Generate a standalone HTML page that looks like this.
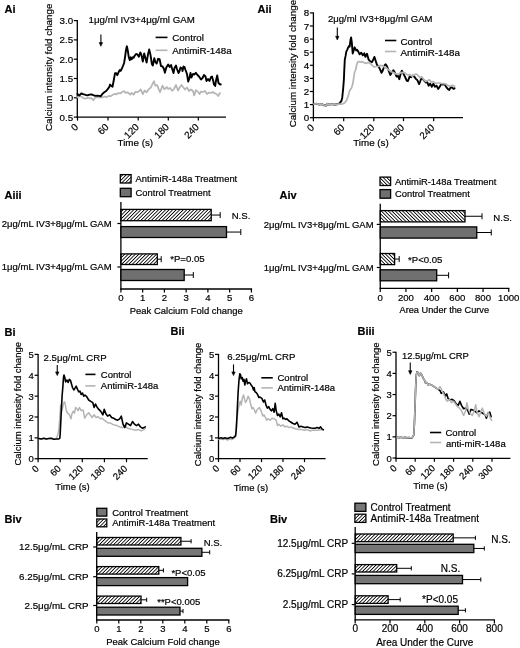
<!DOCTYPE html>
<html><head><meta charset="utf-8"><style>
html,body{margin:0;padding:0;background:#fff;width:520px;height:648px;overflow:hidden}
svg{display:block;will-change:transform}
text{font-family:"Liberation Sans",sans-serif;fill:#000;stroke:#000;stroke-width:0.2px}
</style></head><body>
<svg width="520" height="648" viewBox="0 0 520 648">
<defs>
<pattern id="hf" patternUnits="userSpaceOnUse" width="2.5" height="2.5" patternTransform="rotate(45)"><rect x="0" y="0" width="0.85" height="2.5" fill="#000"/></pattern>
<pattern id="hb" patternUnits="userSpaceOnUse" width="2.5" height="2.5" patternTransform="rotate(-45)"><rect x="0" y="0" width="0.85" height="2.5" fill="#000"/></pattern>
</defs>
<text x="4.60" y="12.60" font-size="11" font-weight="bold">Ai</text>
<line x1="77.30" y1="20.10" x2="77.30" y2="117.70" stroke="#000" stroke-width="1.3"/>
<line x1="76.70" y1="117.10" x2="226.00" y2="117.10" stroke="#000" stroke-width="1.3"/>
<line x1="73.80" y1="20.60" x2="77.30" y2="20.60" stroke="#000" stroke-width="1.2"/>
<text x="73.10" y="24.10" font-size="9.8" text-anchor="end">3.0</text>
<line x1="73.80" y1="39.90" x2="77.30" y2="39.90" stroke="#000" stroke-width="1.2"/>
<text x="73.10" y="43.40" font-size="9.8" text-anchor="end">2.5</text>
<line x1="73.80" y1="59.20" x2="77.30" y2="59.20" stroke="#000" stroke-width="1.2"/>
<text x="73.10" y="62.70" font-size="9.8" text-anchor="end">2.0</text>
<line x1="73.80" y1="78.50" x2="77.30" y2="78.50" stroke="#000" stroke-width="1.2"/>
<text x="73.10" y="82.00" font-size="9.8" text-anchor="end">1.5</text>
<line x1="73.80" y1="97.80" x2="77.30" y2="97.80" stroke="#000" stroke-width="1.2"/>
<text x="73.10" y="101.30" font-size="9.8" text-anchor="end">1.0</text>
<line x1="73.80" y1="117.10" x2="77.30" y2="117.10" stroke="#000" stroke-width="1.2"/>
<text x="73.10" y="120.60" font-size="9.8" text-anchor="end">0.5</text>
<line x1="77.50" y1="117.10" x2="77.50" y2="120.60" stroke="#000" stroke-width="1.2"/>
<text transform="translate(78.90 127.60) rotate(-45)" font-size="9.8" text-anchor="end">0</text>
<line x1="108.00" y1="117.10" x2="108.00" y2="120.60" stroke="#000" stroke-width="1.2"/>
<text transform="translate(109.40 127.60) rotate(-45)" font-size="9.8" text-anchor="end">60</text>
<line x1="138.20" y1="117.10" x2="138.20" y2="120.60" stroke="#000" stroke-width="1.2"/>
<text transform="translate(139.60 127.60) rotate(-45)" font-size="9.8" text-anchor="end">120</text>
<line x1="168.30" y1="117.10" x2="168.30" y2="120.60" stroke="#000" stroke-width="1.2"/>
<text transform="translate(169.70 127.60) rotate(-45)" font-size="9.8" text-anchor="end">180</text>
<line x1="198.30" y1="117.10" x2="198.30" y2="120.60" stroke="#000" stroke-width="1.2"/>
<text transform="translate(199.70 127.60) rotate(-45)" font-size="9.8" text-anchor="end">240</text>
<text transform="translate(52.20 67.30) rotate(-90)" font-size="9.8" text-anchor="middle">Calcium intensity fold change</text>
<text x="135.30" y="146.30" font-size="9.8" text-anchor="middle">Time (s)</text>
<text x="88.60" y="23.10" font-size="9.7">1μg/ml IV3+4μg/ml GAM</text>
<line x1="100.90" y1="34.40" x2="100.90" y2="43.80" stroke="#000" stroke-width="1.1"/>
<path d="M99.20 42.60 L102.60 42.60 L100.90 46.30 Z" fill="#000" stroke="#000" stroke-width="0.6" stroke-linejoin="round"/>
<line x1="155.60" y1="37.40" x2="167.50" y2="37.40" stroke="#000" stroke-width="1.6"/>
<text x="172.30" y="40.80" font-size="9.8">Control</text>
<line x1="155.60" y1="50.30" x2="167.50" y2="50.30" stroke="#b4b4b4" stroke-width="1.6"/>
<text x="172.30" y="53.80" font-size="9.8">AntimiR-148a</text>
<polyline points="77.4,97.3 79.8,96.3 81.8,96.8 83.7,98.3 85.6,98.8 87.5,97.8 89.5,98.3 91.4,98.1 93.3,100.2 95.2,97.8 97.2,97.3 100.0,97.3 102.9,97.3 104.8,96.5 106.8,97.1 108.7,95.9 110.6,96.3 112.5,94.9 114.5,93.9 116.4,94.4 118.3,93.0 120.2,93.5 122.2,92.0 124.1,91.1 125.4,92.8 127.8,92.3 130.2,94.7 131.7,92.8 133.6,94.7 135.5,91.8 137.5,92.3 139.4,90.9 140.8,89.4 142.8,94.2 144.7,90.4 146.6,92.3 149.0,88.9 150.9,87.5 152.4,84.1 154.0,81.2 155.2,85.6 157.2,85.1 158.6,88.9 160.0,92.3 162.5,85.6 164.4,89.4 166.8,87.0 168.2,88.9 170.2,88.0 172.1,90.9 174.0,89.0 176.0,85.0 178.0,90.5 180.0,87.0 181.5,85.0 183.0,87.0 185.0,89.5 187.0,87.5 189.0,91.0 191.0,89.5 193.0,91.0 194.2,95.5 196.0,90.0 198.0,92.0 199.5,94.0 201.0,91.5 203.0,92.0 205.0,91.0 207.0,94.0 209.0,92.5 211.0,93.0 213.0,92.0 215.0,93.5 216.5,94.0 218.2,96.0 220.0,93.0" fill="none" stroke="#b4b4b4" stroke-width="1.7" stroke-linejoin="round" stroke-linecap="round"/>
<polyline points="77.4,93.9 79.4,95.4 81.3,93.5 83.2,94.2 85.6,94.9 87.5,95.4 89.5,94.6 91.4,94.4 93.3,95.2 95.2,95.9 97.2,95.6 99.1,95.9 100.8,96.2 102.0,94.4 103.9,92.5 105.8,91.3 107.7,89.1 109.2,87.2 110.1,84.6 111.1,85.8 112.5,86.7 114.0,79.0 115.0,73.3 116.4,73.3 117.3,75.2 118.3,72.8 119.8,69.9 120.7,70.9 121.7,69.0 123.1,65.6 124.1,63.0 125.2,56.0 126.0,50.0 126.9,46.3 127.8,50.6 128.8,57.3 129.8,60.2 130.7,57.3 131.7,59.2 132.7,57.3 133.6,57.8 134.6,55.9 136.0,54.0 137.5,54.4 138.9,56.8 140.3,52.5 141.3,54.4 142.8,61.6 144.2,53.5 145.2,57.3 146.6,62.6 148.0,54.4 149.2,49.4 150.4,54.4 151.9,64.0 152.8,65.5 154.3,58.3 155.2,61.6 156.7,63.6 158.1,58.8 159.6,59.2 161.0,66.0 162.5,66.4 163.9,68.8 164.9,72.7 166.3,67.4 168.2,64.5 169.7,66.9 171.1,65.0 172.1,68.8 173.5,73.0 174.5,68.0 176.0,65.5 177.0,69.0 178.5,73.0 179.5,71.0 180.5,67.5 182.0,68.5 182.5,71.0 183.5,66.5 184.5,67.0 185.5,70.0 187.0,74.0 188.2,81.5 189.5,78.0 190.5,73.0 191.5,77.5 193.0,74.0 194.5,74.5 195.8,72.8 197.5,75.0 199.0,76.5 201.0,79.5 202.5,78.0 204.0,75.0 205.5,76.5 206.5,81.0 208.0,79.0 209.5,81.0 211.0,77.0 212.0,76.5 213.0,80.0 214.0,84.5 215.2,86.0 216.0,80.5 217.2,75.5 218.5,83.0 219.5,84.0 220.8,84.5" fill="none" stroke="#000" stroke-width="1.9" stroke-linejoin="round" stroke-linecap="round"/>
<text x="257.60" y="12.60" font-size="11" font-weight="bold">Aii</text>
<line x1="313.40" y1="12.40" x2="313.40" y2="118.30" stroke="#000" stroke-width="1.3"/>
<line x1="312.80" y1="117.70" x2="463.00" y2="117.70" stroke="#000" stroke-width="1.3"/>
<line x1="309.90" y1="12.90" x2="313.40" y2="12.90" stroke="#000" stroke-width="1.2"/>
<text x="309.20" y="16.40" font-size="9.8" text-anchor="end">8</text>
<line x1="309.90" y1="26.00" x2="313.40" y2="26.00" stroke="#000" stroke-width="1.2"/>
<text x="309.20" y="29.50" font-size="9.8" text-anchor="end">7</text>
<line x1="309.90" y1="39.10" x2="313.40" y2="39.10" stroke="#000" stroke-width="1.2"/>
<text x="309.20" y="42.60" font-size="9.8" text-anchor="end">6</text>
<line x1="309.90" y1="52.20" x2="313.40" y2="52.20" stroke="#000" stroke-width="1.2"/>
<text x="309.20" y="55.70" font-size="9.8" text-anchor="end">5</text>
<line x1="309.90" y1="65.30" x2="313.40" y2="65.30" stroke="#000" stroke-width="1.2"/>
<text x="309.20" y="68.80" font-size="9.8" text-anchor="end">4</text>
<line x1="309.90" y1="78.40" x2="313.40" y2="78.40" stroke="#000" stroke-width="1.2"/>
<text x="309.20" y="81.90" font-size="9.8" text-anchor="end">3</text>
<line x1="309.90" y1="91.50" x2="313.40" y2="91.50" stroke="#000" stroke-width="1.2"/>
<text x="309.20" y="95.00" font-size="9.8" text-anchor="end">2</text>
<line x1="309.90" y1="104.60" x2="313.40" y2="104.60" stroke="#000" stroke-width="1.2"/>
<text x="309.20" y="108.10" font-size="9.8" text-anchor="end">1</text>
<line x1="309.90" y1="117.70" x2="313.40" y2="117.70" stroke="#000" stroke-width="1.2"/>
<text x="309.20" y="121.20" font-size="9.8" text-anchor="end">0</text>
<line x1="313.40" y1="117.70" x2="313.40" y2="121.20" stroke="#000" stroke-width="1.2"/>
<text transform="translate(314.80 128.20) rotate(-45)" font-size="9.8" text-anchor="end">0</text>
<line x1="343.70" y1="117.70" x2="343.70" y2="121.20" stroke="#000" stroke-width="1.2"/>
<text transform="translate(345.10 128.20) rotate(-45)" font-size="9.8" text-anchor="end">60</text>
<line x1="373.80" y1="117.70" x2="373.80" y2="121.20" stroke="#000" stroke-width="1.2"/>
<text transform="translate(375.20 128.20) rotate(-45)" font-size="9.8" text-anchor="end">120</text>
<line x1="403.50" y1="117.70" x2="403.50" y2="121.20" stroke="#000" stroke-width="1.2"/>
<text transform="translate(404.90 128.20) rotate(-45)" font-size="9.8" text-anchor="end">180</text>
<line x1="433.70" y1="117.70" x2="433.70" y2="121.20" stroke="#000" stroke-width="1.2"/>
<text transform="translate(435.10 128.20) rotate(-45)" font-size="9.8" text-anchor="end">240</text>
<text transform="translate(296.00 63.60) rotate(-90)" font-size="9.8" text-anchor="middle">Calcium intensity fold change</text>
<text x="371.00" y="146.30" font-size="9.8" text-anchor="middle">Time (s)</text>
<text x="327.90" y="22.20" font-size="9.55">2μg/ml IV3+8μg/ml GAM</text>
<line x1="337.30" y1="27.50" x2="337.30" y2="37.50" stroke="#000" stroke-width="1.1"/>
<path d="M335.60 36.30 L339.00 36.30 L337.30 40.00 Z" fill="#000" stroke="#000" stroke-width="0.6" stroke-linejoin="round"/>
<line x1="385.00" y1="40.50" x2="396.30" y2="40.50" stroke="#000" stroke-width="1.6"/>
<text x="400.50" y="44.60" font-size="9.8">Control</text>
<line x1="385.00" y1="51.50" x2="396.30" y2="51.50" stroke="#b4b4b4" stroke-width="1.6"/>
<text x="400.50" y="55.80" font-size="9.8">AntimiR-148a</text>
<polyline points="313.9,104.1 316.9,103.8 319.4,104.7 321.9,104.1 324.3,105.3 326.2,105.6 327.4,103.8 329.3,104.7 331.8,104.1 334.2,104.7 336.7,104.3 338.5,104.1 339.8,102.8 341.4,101.0 342.2,97.9 343.1,89.3 343.9,79.4 344.3,69.5 344.8,59.6 345.6,55.9 346.3,51.6 347.2,49.8 348.0,47.9 349.0,46.0 349.7,46.7 350.5,39.9 351.1,37.4 351.8,42.3 352.7,53.5 353.7,50.4 354.6,47.3 355.2,48.5 356.2,50.4 357.1,49.8 358.3,51.6 359.6,54.3 361.2,52.7 362.8,55.3 364.3,53.2 365.4,56.9 367.0,53.8 368.6,59.6 370.2,61.2 371.8,62.2 372.8,60.6 374.4,56.9 375.8,61.2 377.0,64.9 378.6,66.5 380.2,69.6 381.5,72.8 382.9,70.2 384.5,65.4 385.7,64.3 387.1,66.5 388.7,70.7 390.3,74.9 391.9,72.3 393.4,70.2 395.0,72.8 396.6,76.5 398.2,76.0 399.3,79.2 400.9,72.8 401.9,70.7 403.5,73.9 405.1,77.0 406.7,80.7 408.0,81.0 409.6,76.7 411.2,77.2 412.8,75.6 414.3,76.7 415.9,78.8 417.5,80.4 419.1,84.1 420.2,81.5 421.2,78.3 422.8,78.8 424.4,80.9 426.0,82.5 427.0,81.5 428.6,85.7 430.2,83.6 431.8,86.7 433.4,83.6 435.0,86.7 436.6,85.7 438.2,88.9 439.7,86.7 441.3,84.1 442.9,84.6 444.5,84.1 446.1,86.7 447.7,88.9 449.3,89.9 450.3,87.8 451.9,87.3 453.5,88.9 454.6,88.3" fill="none" stroke="#000" stroke-width="1.9" stroke-linejoin="round" stroke-linecap="round"/>
<polyline points="313.9,104.1 316.9,103.8 319.4,104.7 321.9,104.1 324.3,105.3 326.2,105.6 327.4,103.8 329.3,104.7 331.8,104.1 334.2,104.7 336.7,104.3 338.5,104.1 341.6,104.1 343.5,103.5 344.7,102.8 346.6,100.4 348.4,95.4 349.7,90.5 351.5,88.0 352.7,84.3 353.7,78.1 354.6,72.0 355.8,69.5 356.7,64.6 357.7,62.1 358.9,61.5 360.8,62.1 362.2,61.7 364.3,62.8 366.5,63.3 368.6,62.2 370.7,63.8 372.3,65.4 373.9,67.0 376.0,66.5 378.1,66.5 380.2,65.4 382.9,65.9 385.0,67.5 387.1,68.6 389.2,70.2 391.3,71.7 394.0,72.8 396.1,73.9 398.2,74.4 400.3,72.8 402.4,72.3 404.6,72.8 406.1,73.9 408.0,75.1 410.1,74.6 412.2,76.2 414.3,74.6 416.5,74.0 418.1,75.6 420.2,77.8 421.8,76.7 423.9,79.9 426.0,81.5 428.1,80.4 429.7,79.9 431.3,82.0 433.4,81.5 435.5,83.6 437.6,83.0 439.7,83.0 441.9,83.6 444.0,83.6 446.1,84.1 448.2,85.7 450.3,86.2 452.4,85.2 454.6,86.2" fill="none" stroke="#b4b4b4" stroke-width="1.7" stroke-linejoin="round" stroke-linecap="round"/>
<text x="4.50" y="199.30" font-size="11" font-weight="bold">Aiii</text>
<rect x="120.30" y="174.60" width="10.80" height="8.40" fill="url(#hf)" stroke="#000" stroke-width="1.3"/>
<text x="135.60" y="182.00" font-size="9.4">AntimiR-148a Treatment</text>
<rect x="120.30" y="188.30" width="10.80" height="8.40" fill="#707070" stroke="#000" stroke-width="1.3"/>
<text x="135.60" y="195.80" font-size="9.4">Control Treatment</text>
<line x1="120.90" y1="202.00" x2="120.90" y2="289.60" stroke="#000" stroke-width="1.3"/>
<line x1="120.30" y1="289.00" x2="252.10" y2="289.00" stroke="#000" stroke-width="1.3"/>
<line x1="120.90" y1="289.00" x2="120.90" y2="292.50" stroke="#000" stroke-width="1.2"/>
<text x="120.90" y="301.20" font-size="9.6" text-anchor="middle">0</text>
<line x1="142.65" y1="289.00" x2="142.65" y2="292.50" stroke="#000" stroke-width="1.2"/>
<text x="142.65" y="301.20" font-size="9.6" text-anchor="middle">1</text>
<line x1="164.40" y1="289.00" x2="164.40" y2="292.50" stroke="#000" stroke-width="1.2"/>
<text x="164.40" y="301.20" font-size="9.6" text-anchor="middle">2</text>
<line x1="186.15" y1="289.00" x2="186.15" y2="292.50" stroke="#000" stroke-width="1.2"/>
<text x="186.15" y="301.20" font-size="9.6" text-anchor="middle">3</text>
<line x1="207.90" y1="289.00" x2="207.90" y2="292.50" stroke="#000" stroke-width="1.2"/>
<text x="207.90" y="301.20" font-size="9.6" text-anchor="middle">4</text>
<line x1="229.65" y1="289.00" x2="229.65" y2="292.50" stroke="#000" stroke-width="1.2"/>
<text x="229.65" y="301.20" font-size="9.6" text-anchor="middle">5</text>
<line x1="251.40" y1="289.00" x2="251.40" y2="292.50" stroke="#000" stroke-width="1.2"/>
<text x="251.40" y="301.20" font-size="9.6" text-anchor="middle">6</text>
<line x1="117.40" y1="223.50" x2="120.90" y2="223.50" stroke="#000" stroke-width="1.2"/>
<text x="111.60" y="226.90" font-size="9.5" text-anchor="end">2μg/mL IV3+8μg/mL GAM</text>
<line x1="117.40" y1="267.00" x2="120.90" y2="267.00" stroke="#000" stroke-width="1.2"/>
<text x="111.60" y="270.40" font-size="9.5" text-anchor="end">1μg/mL IV3+4μg/mL GAM</text>
<text x="186.30" y="313.60" font-size="9.6" text-anchor="middle" textLength="113" lengthAdjust="spacingAndGlyphs">Peak Calcium Fold change</text>
<line x1="211.20" y1="215.05" x2="220.20" y2="215.05" stroke="#000" stroke-width="1.0"/>
<line x1="220.20" y1="212.05" x2="220.20" y2="218.05" stroke="#000" stroke-width="1.0"/>
<rect x="120.90" y="209.40" width="90.30" height="11.30" fill="url(#hf)" stroke="#000" stroke-width="1.3"/>
<line x1="226.50" y1="232.05" x2="240.80" y2="232.05" stroke="#000" stroke-width="1.0"/>
<line x1="240.80" y1="229.05" x2="240.80" y2="235.05" stroke="#000" stroke-width="1.0"/>
<rect x="120.90" y="226.60" width="105.60" height="10.90" fill="#707070" stroke="#000" stroke-width="1.3"/>
<line x1="157.30" y1="259.20" x2="161.20" y2="259.20" stroke="#000" stroke-width="1.0"/>
<line x1="161.20" y1="256.20" x2="161.20" y2="262.20" stroke="#000" stroke-width="1.0"/>
<rect x="120.90" y="253.90" width="36.40" height="10.60" fill="url(#hf)" stroke="#000" stroke-width="1.3"/>
<line x1="184.20" y1="275.00" x2="193.30" y2="275.00" stroke="#000" stroke-width="1.0"/>
<line x1="193.30" y1="272.00" x2="193.30" y2="278.00" stroke="#000" stroke-width="1.0"/>
<rect x="120.90" y="269.50" width="63.30" height="11.00" fill="#707070" stroke="#000" stroke-width="1.3"/>
<text x="231.70" y="218.80" font-size="9.6">N.S.</text>
<text x="170.20" y="262.00" font-size="9.6">*P=0.05</text>
<text x="279.50" y="199.30" font-size="11" font-weight="bold">Aiv</text>
<rect x="380.00" y="177.10" width="10.60" height="8.40" fill="url(#hb)" stroke="#000" stroke-width="1.3"/>
<text x="395.00" y="184.50" font-size="9.35">AntimiR-148a Treatment</text>
<rect x="380.00" y="189.60" width="10.60" height="8.60" fill="#707070" stroke="#000" stroke-width="1.3"/>
<text x="395.00" y="196.60" font-size="9.35">Control Treatment</text>
<line x1="380.25" y1="203.75" x2="380.25" y2="289.00" stroke="#000" stroke-width="1.3"/>
<line x1="379.65" y1="288.40" x2="509.40" y2="288.40" stroke="#000" stroke-width="1.3"/>
<line x1="380.25" y1="288.40" x2="380.25" y2="291.90" stroke="#000" stroke-width="1.2"/>
<text x="380.25" y="300.60" font-size="9.6" text-anchor="middle">0</text>
<line x1="405.95" y1="288.40" x2="405.95" y2="291.90" stroke="#000" stroke-width="1.2"/>
<text x="405.95" y="300.60" font-size="9.6" text-anchor="middle">200</text>
<line x1="431.65" y1="288.40" x2="431.65" y2="291.90" stroke="#000" stroke-width="1.2"/>
<text x="431.65" y="300.60" font-size="9.6" text-anchor="middle">400</text>
<line x1="457.35" y1="288.40" x2="457.35" y2="291.90" stroke="#000" stroke-width="1.2"/>
<text x="457.35" y="300.60" font-size="9.6" text-anchor="middle">600</text>
<line x1="483.05" y1="288.40" x2="483.05" y2="291.90" stroke="#000" stroke-width="1.2"/>
<text x="483.05" y="300.60" font-size="9.6" text-anchor="middle">800</text>
<line x1="508.75" y1="288.40" x2="508.75" y2="291.90" stroke="#000" stroke-width="1.2"/>
<text x="508.75" y="300.60" font-size="9.6" text-anchor="middle">1000</text>
<line x1="376.75" y1="224.40" x2="380.25" y2="224.40" stroke="#000" stroke-width="1.2"/>
<text x="373.60" y="227.80" font-size="9.5" text-anchor="end">2μg/mL IV3+8μg/mL GAM</text>
<line x1="376.75" y1="267.50" x2="380.25" y2="267.50" stroke="#000" stroke-width="1.2"/>
<text x="373.60" y="270.90" font-size="9.5" text-anchor="end">1μg/mL IV3+4μg/mL GAM</text>
<text x="444.30" y="312.80" font-size="9.6" text-anchor="middle" textLength="89.5" lengthAdjust="spacingAndGlyphs">Area Under the Curve</text>
<line x1="465.00" y1="216.25" x2="482.00" y2="216.25" stroke="#000" stroke-width="1.0"/>
<line x1="482.00" y1="213.25" x2="482.00" y2="219.25" stroke="#000" stroke-width="1.0"/>
<rect x="380.25" y="210.60" width="84.75" height="11.30" fill="url(#hb)" stroke="#000" stroke-width="1.3"/>
<line x1="476.75" y1="232.50" x2="491.25" y2="232.50" stroke="#000" stroke-width="1.0"/>
<line x1="491.25" y1="229.50" x2="491.25" y2="235.50" stroke="#000" stroke-width="1.0"/>
<rect x="380.25" y="226.90" width="96.50" height="11.20" fill="#707070" stroke="#000" stroke-width="1.3"/>
<line x1="394.60" y1="259.05" x2="399.20" y2="259.05" stroke="#000" stroke-width="1.0"/>
<line x1="399.20" y1="256.05" x2="399.20" y2="262.05" stroke="#000" stroke-width="1.0"/>
<rect x="380.25" y="253.50" width="14.35" height="11.10" fill="url(#hb)" stroke="#000" stroke-width="1.3"/>
<line x1="436.70" y1="275.30" x2="448.60" y2="275.30" stroke="#000" stroke-width="1.0"/>
<line x1="448.60" y1="272.30" x2="448.60" y2="278.30" stroke="#000" stroke-width="1.0"/>
<rect x="380.25" y="269.80" width="56.45" height="11.00" fill="#707070" stroke="#000" stroke-width="1.3"/>
<text x="493.30" y="220.60" font-size="9.6">N.S.</text>
<text x="408.00" y="262.80" font-size="9.6">*P&lt;0.05</text>
<text x="4.50" y="335.60" font-size="11" font-weight="bold">Bi</text>
<line x1="38.10" y1="353.90" x2="38.10" y2="459.30" stroke="#000" stroke-width="1.3"/>
<line x1="37.50" y1="458.70" x2="147.70" y2="458.70" stroke="#000" stroke-width="1.3"/>
<line x1="34.60" y1="354.40" x2="38.10" y2="354.40" stroke="#000" stroke-width="1.2"/>
<text x="33.90" y="357.90" font-size="9.5" text-anchor="end">5</text>
<line x1="34.60" y1="375.27" x2="38.10" y2="375.27" stroke="#000" stroke-width="1.2"/>
<text x="33.90" y="378.77" font-size="9.5" text-anchor="end">4</text>
<line x1="34.60" y1="396.14" x2="38.10" y2="396.14" stroke="#000" stroke-width="1.2"/>
<text x="33.90" y="399.64" font-size="9.5" text-anchor="end">3</text>
<line x1="34.60" y1="417.01" x2="38.10" y2="417.01" stroke="#000" stroke-width="1.2"/>
<text x="33.90" y="420.51" font-size="9.5" text-anchor="end">2</text>
<line x1="34.60" y1="437.88" x2="38.10" y2="437.88" stroke="#000" stroke-width="1.2"/>
<text x="33.90" y="441.38" font-size="9.5" text-anchor="end">1</text>
<line x1="34.60" y1="458.75" x2="38.10" y2="458.75" stroke="#000" stroke-width="1.2"/>
<text x="33.90" y="462.25" font-size="9.5" text-anchor="end">0</text>
<line x1="38.10" y1="458.70" x2="38.10" y2="462.20" stroke="#000" stroke-width="1.2"/>
<text transform="translate(39.50 469.20) rotate(-45)" font-size="9.5" text-anchor="end">0</text>
<line x1="60.20" y1="458.70" x2="60.20" y2="462.20" stroke="#000" stroke-width="1.2"/>
<text transform="translate(61.60 469.20) rotate(-45)" font-size="9.5" text-anchor="end">60</text>
<line x1="82.30" y1="458.70" x2="82.30" y2="462.20" stroke="#000" stroke-width="1.2"/>
<text transform="translate(83.70 469.20) rotate(-45)" font-size="9.5" text-anchor="end">120</text>
<line x1="104.40" y1="458.70" x2="104.40" y2="462.20" stroke="#000" stroke-width="1.2"/>
<text transform="translate(105.80 469.20) rotate(-45)" font-size="9.5" text-anchor="end">180</text>
<line x1="126.50" y1="458.70" x2="126.50" y2="462.20" stroke="#000" stroke-width="1.2"/>
<text transform="translate(127.90 469.20) rotate(-45)" font-size="9.5" text-anchor="end">240</text>
<text transform="translate(20.70 403.80) rotate(-90)" font-size="9.5" text-anchor="middle">Calcium intensity fold change</text>
<text x="72.50" y="489.60" font-size="9.5" text-anchor="middle">Time (s)</text>
<text x="43.60" y="360.50" font-size="9.65">2.5μg/mL CRP</text>
<line x1="57.25" y1="365.00" x2="57.25" y2="373.10" stroke="#000" stroke-width="1.1"/>
<path d="M55.55 371.90 L58.95 371.90 L57.25 375.60 Z" fill="#000" stroke="#000" stroke-width="0.6" stroke-linejoin="round"/>
<line x1="85.40" y1="374.40" x2="95.50" y2="374.40" stroke="#000" stroke-width="1.6"/>
<text x="100.80" y="377.50" font-size="9.5">Control</text>
<line x1="85.40" y1="385.90" x2="95.50" y2="385.90" stroke="#b4b4b4" stroke-width="1.6"/>
<text x="100.80" y="389.20" font-size="9.5">AntimiR-148a</text>
<polyline points="38.8,438.5 41.2,439.0 43.8,438.2 46.2,439.0 48.8,438.5 51.2,438.2 53.8,439.2 56.2,439.0 57.5,435.6 58.8,430.0 59.8,417.5 60.6,405.0 61.5,412.0 62.5,408.0 63.5,403.8 64.4,401.9 65.2,403.8 66.2,410.0 67.5,413.1 68.8,413.8 70.0,416.2 71.0,418.8 71.9,413.8 73.1,411.2 74.4,413.1 75.6,407.5 76.9,408.8 78.1,410.6 79.4,407.5 81.2,410.6 83.1,410.0 84.7,418.2 86.7,414.8 88.7,412.8 90.1,414.8 92.1,417.5 94.1,414.8 96.1,417.5 98.2,416.8 100.2,418.8 102.2,418.2 104.2,420.2 106.2,421.5 108.2,422.9 110.3,422.9 112.3,424.2 114.3,424.9 117.0,425.6 119.7,426.9 122.4,427.6 125.1,426.2 127.8,428.3 130.5,428.9 133.1,429.6 135.8,430.3 138.5,429.6 141.2,430.9 143.9,429.6 145.3,428.3" fill="none" stroke="#b4b4b4" stroke-width="1.5" stroke-linejoin="round" stroke-linecap="round"/>
<polyline points="38.8,438.5 41.2,439.0 43.8,438.2 46.2,439.0 48.8,438.5 51.2,438.2 53.8,439.2 56.2,439.0 58.8,439.0 59.8,438.1 60.2,433.8 61.0,417.5 61.6,405.0 62.1,396.0 62.9,386.2 63.5,377.5 64.0,375.0 64.8,377.5 65.6,381.9 66.9,380.0 68.1,382.5 69.4,379.4 70.6,380.6 71.2,383.1 72.5,387.5 73.8,390.0 75.0,388.1 76.2,386.2 77.5,389.4 78.8,391.9 80.0,391.2 81.2,394.4 82.5,393.1 83.8,396.2 85.0,395.0 86.7,396.6 88.7,400.0 90.7,401.3 92.8,402.7 94.1,407.4 95.5,404.0 96.8,406.7 98.8,409.4 100.8,411.4 102.9,414.8 104.2,409.4 106.0,414.1 107.6,416.1 109.6,414.8 111.6,417.5 113.6,418.2 115.6,419.5 117.7,420.2 119.7,418.8 121.3,416.1 123.0,424.2 124.8,427.6 126.4,422.9 128.4,424.2 130.5,425.6 132.5,421.5 134.5,424.2 136.5,425.6 138.5,424.2 140.5,426.9 142.6,428.3 145.3,426.9" fill="none" stroke="#000" stroke-width="1.6" stroke-linejoin="round" stroke-linecap="round"/>
<text x="170.50" y="335.20" font-size="11" font-weight="bold">Bii</text>
<line x1="218.50" y1="353.90" x2="218.50" y2="459.20" stroke="#000" stroke-width="1.3"/>
<line x1="217.90" y1="458.60" x2="325.60" y2="458.60" stroke="#000" stroke-width="1.3"/>
<line x1="215.00" y1="354.40" x2="218.50" y2="354.40" stroke="#000" stroke-width="1.2"/>
<text x="214.30" y="357.90" font-size="9.5" text-anchor="end">5</text>
<line x1="215.00" y1="375.27" x2="218.50" y2="375.27" stroke="#000" stroke-width="1.2"/>
<text x="214.30" y="378.77" font-size="9.5" text-anchor="end">4</text>
<line x1="215.00" y1="396.14" x2="218.50" y2="396.14" stroke="#000" stroke-width="1.2"/>
<text x="214.30" y="399.64" font-size="9.5" text-anchor="end">3</text>
<line x1="215.00" y1="417.01" x2="218.50" y2="417.01" stroke="#000" stroke-width="1.2"/>
<text x="214.30" y="420.51" font-size="9.5" text-anchor="end">2</text>
<line x1="215.00" y1="437.88" x2="218.50" y2="437.88" stroke="#000" stroke-width="1.2"/>
<text x="214.30" y="441.38" font-size="9.5" text-anchor="end">1</text>
<line x1="215.00" y1="458.75" x2="218.50" y2="458.75" stroke="#000" stroke-width="1.2"/>
<text x="214.30" y="462.25" font-size="9.5" text-anchor="end">0</text>
<line x1="218.50" y1="458.60" x2="218.50" y2="462.10" stroke="#000" stroke-width="1.2"/>
<text transform="translate(219.90 469.10) rotate(-45)" font-size="9.5" text-anchor="end">0</text>
<line x1="240.00" y1="458.60" x2="240.00" y2="462.10" stroke="#000" stroke-width="1.2"/>
<text transform="translate(241.40 469.10) rotate(-45)" font-size="9.5" text-anchor="end">60</text>
<line x1="261.50" y1="458.60" x2="261.50" y2="462.10" stroke="#000" stroke-width="1.2"/>
<text transform="translate(262.90 469.10) rotate(-45)" font-size="9.5" text-anchor="end">120</text>
<line x1="283.00" y1="458.60" x2="283.00" y2="462.10" stroke="#000" stroke-width="1.2"/>
<text transform="translate(284.40 469.10) rotate(-45)" font-size="9.5" text-anchor="end">180</text>
<line x1="304.50" y1="458.60" x2="304.50" y2="462.10" stroke="#000" stroke-width="1.2"/>
<text transform="translate(305.90 469.10) rotate(-45)" font-size="9.5" text-anchor="end">240</text>
<text transform="translate(200.60 404.40) rotate(-90)" font-size="9.5" text-anchor="middle">Calcium intensity fold change</text>
<text x="250.90" y="491.30" font-size="9.5" text-anchor="middle">Time (s)</text>
<text x="227.25" y="359.90" font-size="9.6">6.25μg/mL CRP</text>
<line x1="233.50" y1="364.40" x2="233.50" y2="373.10" stroke="#000" stroke-width="1.1"/>
<path d="M231.80 371.90 L235.20 371.90 L233.50 375.60 Z" fill="#000" stroke="#000" stroke-width="0.6" stroke-linejoin="round"/>
<line x1="261.30" y1="377.80" x2="272.80" y2="377.80" stroke="#000" stroke-width="1.6"/>
<text x="277.50" y="381.00" font-size="9.5">Control</text>
<line x1="261.30" y1="387.90" x2="272.80" y2="387.90" stroke="#b4b4b4" stroke-width="1.6"/>
<text x="277.50" y="391.30" font-size="9.5">AntimiR-148a</text>
<polyline points="218.8,439.5 221.2,439.0 223.1,439.5 225.0,439.0 227.5,440.0 229.5,439.0 231.5,439.5 233.5,438.5 235.5,437.0 236.4,428.0 236.9,420.0 238.1,410.0 239.4,403.8 240.2,401.2 241.2,405.0 242.5,397.5 243.5,395.0 244.8,400.0 245.6,402.5 246.9,400.0 248.1,396.2 249.4,398.8 250.6,403.8 251.9,408.8 253.1,407.5 254.4,410.0 255.6,413.1 256.9,410.0 258.1,408.8 259.4,407.5 260.6,410.0 261.3,411.4 262.7,416.1 264.0,414.8 265.4,417.5 266.7,420.2 268.1,418.8 270.1,420.2 272.1,418.2 274.1,418.8 276.2,420.2 277.5,425.6 278.8,424.2 280.9,426.2 282.9,424.9 284.9,426.9 286.9,426.2 288.9,427.6 291.0,426.9 293.6,428.3 296.3,428.9 299.0,429.6 301.7,429.6 304.4,430.3 307.1,429.6 309.8,430.9 312.5,430.3 315.2,430.3 317.9,430.3 320.6,429.6 323.3,430.3" fill="none" stroke="#b4b4b4" stroke-width="1.5" stroke-linejoin="round" stroke-linecap="round"/>
<polyline points="218.8,438.5 221.2,437.8 223.1,438.5 225.0,437.8 226.9,438.5 228.8,438.1 230.6,437.2 232.5,438.1 234.4,436.9 235.6,435.6 236.2,430.0 236.9,417.5 237.4,407.0 238.1,392.5 239.0,380.0 239.8,373.8 240.6,375.0 241.2,378.8 242.2,377.5 243.1,381.2 244.0,379.4 244.8,385.0 245.6,381.2 246.5,378.8 247.5,383.8 248.8,382.5 250.0,383.1 251.2,385.0 252.5,386.9 253.5,390.0 254.1,387.5 255.0,391.9 256.2,392.5 257.5,394.4 258.8,397.5 260.0,397.0 262.0,398.6 263.4,402.0 264.7,400.0 266.1,405.4 267.4,408.1 268.7,406.7 270.1,409.4 271.4,410.8 272.8,408.7 274.1,412.1 275.2,403.4 276.2,410.8 277.5,415.5 278.8,414.1 280.2,416.8 281.5,412.8 282.9,418.8 284.2,418.2 285.6,419.5 286.9,418.8 288.9,420.9 291.0,422.2 293.0,423.5 295.0,424.2 297.0,422.2 299.0,426.9 301.0,426.2 303.1,426.9 305.1,427.6 307.1,426.9 309.1,427.6 311.1,428.0 313.2,428.3 315.2,428.3 317.2,427.6 319.2,428.3 320.6,426.9 321.9,428.9 323.3,429.6" fill="none" stroke="#000" stroke-width="1.6" stroke-linejoin="round" stroke-linecap="round"/>
<text x="357.50" y="335.20" font-size="11" font-weight="bold">Biii</text>
<line x1="396.00" y1="351.75" x2="396.00" y2="458.90" stroke="#000" stroke-width="1.3"/>
<line x1="395.40" y1="458.30" x2="510.40" y2="458.30" stroke="#000" stroke-width="1.3"/>
<line x1="392.50" y1="352.25" x2="396.00" y2="352.25" stroke="#000" stroke-width="1.2"/>
<text x="391.80" y="355.75" font-size="9.5" text-anchor="end">5</text>
<line x1="392.50" y1="373.40" x2="396.00" y2="373.40" stroke="#000" stroke-width="1.2"/>
<text x="391.80" y="376.90" font-size="9.5" text-anchor="end">4</text>
<line x1="392.50" y1="394.55" x2="396.00" y2="394.55" stroke="#000" stroke-width="1.2"/>
<text x="391.80" y="398.05" font-size="9.5" text-anchor="end">3</text>
<line x1="392.50" y1="415.70" x2="396.00" y2="415.70" stroke="#000" stroke-width="1.2"/>
<text x="391.80" y="419.20" font-size="9.5" text-anchor="end">2</text>
<line x1="392.50" y1="436.85" x2="396.00" y2="436.85" stroke="#000" stroke-width="1.2"/>
<text x="391.80" y="440.35" font-size="9.5" text-anchor="end">1</text>
<line x1="392.50" y1="458.00" x2="396.00" y2="458.00" stroke="#000" stroke-width="1.2"/>
<text x="391.80" y="461.50" font-size="9.5" text-anchor="end">0</text>
<line x1="396.00" y1="458.30" x2="396.00" y2="461.80" stroke="#000" stroke-width="1.2"/>
<text transform="translate(397.40 468.80) rotate(-45)" font-size="9.5" text-anchor="end">0</text>
<line x1="415.20" y1="458.30" x2="415.20" y2="461.80" stroke="#000" stroke-width="1.2"/>
<text transform="translate(416.60 468.80) rotate(-45)" font-size="9.5" text-anchor="end">60</text>
<line x1="434.40" y1="458.30" x2="434.40" y2="461.80" stroke="#000" stroke-width="1.2"/>
<text transform="translate(435.80 468.80) rotate(-45)" font-size="9.5" text-anchor="end">120</text>
<line x1="453.60" y1="458.30" x2="453.60" y2="461.80" stroke="#000" stroke-width="1.2"/>
<text transform="translate(455.00 468.80) rotate(-45)" font-size="9.5" text-anchor="end">180</text>
<line x1="472.80" y1="458.30" x2="472.80" y2="461.80" stroke="#000" stroke-width="1.2"/>
<text transform="translate(474.20 468.80) rotate(-45)" font-size="9.5" text-anchor="end">240</text>
<line x1="492.00" y1="458.30" x2="492.00" y2="461.80" stroke="#000" stroke-width="1.2"/>
<text transform="translate(493.40 468.80) rotate(-45)" font-size="9.5" text-anchor="end">300</text>
<text transform="translate(379.20 404.20) rotate(-90)" font-size="9.5" text-anchor="middle">Calcium intensity fold change</text>
<text x="430.40" y="489.20" font-size="9.5" text-anchor="middle">Time (s)</text>
<text x="401.90" y="358.90" font-size="9.45">12.5μg/mL CRP</text>
<line x1="410.25" y1="362.50" x2="410.25" y2="371.90" stroke="#000" stroke-width="1.1"/>
<path d="M408.55 370.70 L411.95 370.70 L410.25 374.40 Z" fill="#000" stroke="#000" stroke-width="0.6" stroke-linejoin="round"/>
<line x1="430.00" y1="432.50" x2="441.25" y2="432.50" stroke="#000" stroke-width="1.6"/>
<text x="445.50" y="436.00" font-size="9.5">Control</text>
<line x1="430.00" y1="442.50" x2="441.25" y2="442.50" stroke="#b4b4b4" stroke-width="1.6"/>
<text x="446.00" y="446.80" font-size="9.5">anti-miR-148a</text>
<polyline points="396.9,437.2 399.0,437.6 401.0,437.3 403.0,437.8 405.0,437.4 407.0,437.9 409.0,437.6 411.9,438.1 413.8,435.0 414.4,423.8 415.0,407.5 415.6,388.8 416.2,376.2 416.9,371.9 418.1,372.5 419.4,375.6 420.6,373.1 421.9,375.0 423.1,378.1 424.4,380.0 425.6,383.1 426.9,382.5 428.1,385.0 429.4,383.8 430.6,385.0 432.5,385.6 434.4,386.9 436.2,388.1 438.1,389.4 440.0,390.6 441.3,393.3 443.4,391.9 445.4,396.0 446.7,393.9 448.1,398.6 450.1,400.0 452.1,399.3 454.1,400.7 456.2,404.0 458.2,405.4 459.9,401.3 461.5,405.4 463.6,408.7 465.6,408.1 467.6,410.1 469.3,414.1 471.0,409.4 473.0,410.1 475.0,411.4 477.0,412.8 479.0,410.8 481.0,412.1 483.1,413.5 485.1,414.8 486.4,418.2 487.8,413.5 489.8,412.1 491.1,416.8" fill="none" stroke="#000" stroke-width="1.6" stroke-linejoin="round" stroke-linecap="round"/>
<polyline points="396.9,437.2 399.0,437.6 401.0,437.3 403.0,437.8 405.0,437.4 407.0,437.9 409.0,437.6 411.9,438.1 413.8,435.0 414.4,423.8 415.0,407.5 415.6,388.8 416.2,376.2 416.9,371.9 418.1,372.5 419.4,375.6 420.6,373.1 421.9,375.0 423.1,378.1 424.4,380.0 425.6,383.1 426.9,382.5 428.1,385.0 429.4,383.8 430.6,385.0 432.5,385.6 434.4,386.9 436.2,388.1 438.1,389.4 440.0,386.5 442.0,390.6 444.0,394.6 446.1,400.0 447.4,401.3 449.4,399.3 451.4,402.7 453.5,401.3 455.5,404.0 457.5,406.7 459.5,408.1 461.5,410.8 463.6,415.5 465.6,410.8 466.9,402.7 468.3,409.4 470.3,413.5 472.3,415.5 474.3,410.8 475.7,404.7 477.0,412.1 479.0,416.8 481.0,411.4 482.4,408.1 484.4,414.1 486.4,416.1 488.5,412.8 490.5,418.8 491.8,420.2" fill="none" stroke="#b4b4b4" stroke-width="1.5" stroke-linejoin="round" stroke-linecap="round"/>
<text x="4.50" y="523.30" font-size="11" font-weight="bold">Biv</text>
<rect x="96.80" y="508.30" width="10.00" height="7.80" fill="#767676" stroke="#000" stroke-width="1.3"/>
<text x="112.20" y="515.60" font-size="9.5">Control Treatment</text>
<rect x="96.80" y="519.00" width="10.00" height="7.80" fill="url(#hf)" stroke="#000" stroke-width="1.3"/>
<text x="112.20" y="526.30" font-size="9.5">AntimiR-148a Treatment</text>
<line x1="96.70" y1="532.00" x2="96.70" y2="620.60" stroke="#000" stroke-width="1.3"/>
<line x1="96.10" y1="620.00" x2="229.40" y2="620.00" stroke="#000" stroke-width="1.3"/>
<line x1="96.80" y1="620.00" x2="96.80" y2="623.50" stroke="#000" stroke-width="1.2"/>
<text x="96.80" y="632.40" font-size="9.5" text-anchor="middle">0</text>
<line x1="118.80" y1="620.00" x2="118.80" y2="623.50" stroke="#000" stroke-width="1.2"/>
<text x="118.80" y="632.40" font-size="9.5" text-anchor="middle">1</text>
<line x1="140.80" y1="620.00" x2="140.80" y2="623.50" stroke="#000" stroke-width="1.2"/>
<text x="140.80" y="632.40" font-size="9.5" text-anchor="middle">2</text>
<line x1="162.80" y1="620.00" x2="162.80" y2="623.50" stroke="#000" stroke-width="1.2"/>
<text x="162.80" y="632.40" font-size="9.5" text-anchor="middle">3</text>
<line x1="184.80" y1="620.00" x2="184.80" y2="623.50" stroke="#000" stroke-width="1.2"/>
<text x="184.80" y="632.40" font-size="9.5" text-anchor="middle">4</text>
<line x1="206.80" y1="620.00" x2="206.80" y2="623.50" stroke="#000" stroke-width="1.2"/>
<text x="206.80" y="632.40" font-size="9.5" text-anchor="middle">5</text>
<line x1="228.80" y1="620.00" x2="228.80" y2="623.50" stroke="#000" stroke-width="1.2"/>
<text x="228.80" y="632.40" font-size="9.5" text-anchor="middle">6</text>
<line x1="93.20" y1="547.00" x2="96.70" y2="547.00" stroke="#000" stroke-width="1.2"/>
<text x="88.60" y="550.40" font-size="9.8" text-anchor="end">12.5μg/mL CRP</text>
<line x1="93.20" y1="576.70" x2="96.70" y2="576.70" stroke="#000" stroke-width="1.2"/>
<text x="88.60" y="580.10" font-size="9.8" text-anchor="end">6.25μg/mL CRP</text>
<line x1="93.20" y1="605.50" x2="96.70" y2="605.50" stroke="#000" stroke-width="1.2"/>
<text x="88.60" y="608.90" font-size="9.8" text-anchor="end">2.5μg/mL CRP</text>
<text x="163.00" y="645.00" font-size="9.5" text-anchor="middle">Peak Calcium Fold change</text>
<line x1="180.90" y1="541.25" x2="191.10" y2="541.25" stroke="#000" stroke-width="1.0"/>
<line x1="191.10" y1="539.15" x2="191.10" y2="543.35" stroke="#000" stroke-width="1.0"/>
<rect x="96.70" y="537.50" width="84.20" height="7.50" fill="url(#hf)" stroke="#000" stroke-width="1.3"/>
<line x1="201.90" y1="552.30" x2="209.70" y2="552.30" stroke="#000" stroke-width="1.0"/>
<line x1="209.70" y1="550.20" x2="209.70" y2="554.40" stroke="#000" stroke-width="1.0"/>
<rect x="96.70" y="548.30" width="105.20" height="8.00" fill="#767676" stroke="#000" stroke-width="1.3"/>
<line x1="158.80" y1="570.35" x2="163.40" y2="570.35" stroke="#000" stroke-width="1.0"/>
<line x1="163.40" y1="568.25" x2="163.40" y2="572.45" stroke="#000" stroke-width="1.0"/>
<rect x="96.70" y="566.60" width="62.10" height="7.50" fill="url(#hf)" stroke="#000" stroke-width="1.3"/>
<rect x="96.70" y="577.60" width="90.90" height="8.00" fill="#767676" stroke="#000" stroke-width="1.3"/>
<line x1="141.00" y1="599.80" x2="146.70" y2="599.80" stroke="#000" stroke-width="1.0"/>
<line x1="146.70" y1="597.70" x2="146.70" y2="601.90" stroke="#000" stroke-width="1.0"/>
<rect x="96.70" y="596.10" width="44.30" height="7.40" fill="url(#hf)" stroke="#000" stroke-width="1.3"/>
<line x1="180.00" y1="611.10" x2="183.00" y2="611.10" stroke="#000" stroke-width="1.0"/>
<line x1="183.00" y1="609.00" x2="183.00" y2="613.20" stroke="#000" stroke-width="1.0"/>
<rect x="96.70" y="607.20" width="83.30" height="7.80" fill="#767676" stroke="#000" stroke-width="1.3"/>
<text x="203.70" y="546.00" font-size="9.5">N.S.</text>
<text x="171.40" y="575.60" font-size="9.5">*P&lt;0.05</text>
<text x="157.20" y="605.30" font-size="9.5">**P&lt;0.005</text>
<text x="270.00" y="523.30" font-size="11" font-weight="bold">Biv</text>
<rect x="354.90" y="503.20" width="11.00" height="8.20" fill="#767676" stroke="#000" stroke-width="1.3"/>
<text x="370.60" y="511.20" font-size="10.0">Control Treatment</text>
<rect x="354.90" y="514.20" width="11.00" height="8.20" fill="url(#hf)" stroke="#000" stroke-width="1.3"/>
<text x="370.60" y="521.60" font-size="10.0">AntimiR-148a Treatment</text>
<line x1="355.20" y1="527.00" x2="355.20" y2="620.50" stroke="#000" stroke-width="1.3"/>
<line x1="354.60" y1="619.90" x2="495.00" y2="619.90" stroke="#000" stroke-width="1.3"/>
<line x1="355.20" y1="619.90" x2="355.20" y2="623.40" stroke="#000" stroke-width="1.2"/>
<text x="355.20" y="632.20" font-size="10.0" text-anchor="middle">0</text>
<line x1="390.00" y1="619.90" x2="390.00" y2="623.40" stroke="#000" stroke-width="1.2"/>
<text x="390.00" y="632.20" font-size="10.0" text-anchor="middle">200</text>
<line x1="424.80" y1="619.90" x2="424.80" y2="623.40" stroke="#000" stroke-width="1.2"/>
<text x="424.80" y="632.20" font-size="10.0" text-anchor="middle">400</text>
<line x1="459.60" y1="619.90" x2="459.60" y2="623.40" stroke="#000" stroke-width="1.2"/>
<text x="459.60" y="632.20" font-size="10.0" text-anchor="middle">600</text>
<line x1="494.40" y1="619.90" x2="494.40" y2="623.40" stroke="#000" stroke-width="1.2"/>
<text x="494.40" y="632.20" font-size="10.0" text-anchor="middle">800</text>
<line x1="351.70" y1="543.30" x2="355.20" y2="543.30" stroke="#000" stroke-width="1.2"/>
<text x="348.20" y="546.70" font-size="10.0" text-anchor="end">12.5μg/mL CRP</text>
<line x1="351.70" y1="573.90" x2="355.20" y2="573.90" stroke="#000" stroke-width="1.2"/>
<text x="348.20" y="577.30" font-size="10.0" text-anchor="end">6.25μg/mL CRP</text>
<line x1="351.70" y1="604.60" x2="355.20" y2="604.60" stroke="#000" stroke-width="1.2"/>
<text x="348.20" y="608.00" font-size="10.0" text-anchor="end">2.5μg/mL CRP</text>
<text x="424.80" y="645.80" font-size="10.0" text-anchor="middle">Area Under the Curve</text>
<line x1="453.20" y1="537.85" x2="475.40" y2="537.85" stroke="#000" stroke-width="1.0"/>
<line x1="475.40" y1="535.75" x2="475.40" y2="539.95" stroke="#000" stroke-width="1.0"/>
<rect x="355.20" y="534.00" width="98.00" height="7.70" fill="url(#hf)" stroke="#000" stroke-width="1.3"/>
<line x1="473.80" y1="548.45" x2="484.30" y2="548.45" stroke="#000" stroke-width="1.0"/>
<line x1="484.30" y1="546.35" x2="484.30" y2="550.55" stroke="#000" stroke-width="1.0"/>
<rect x="355.20" y="544.30" width="118.60" height="8.30" fill="#767676" stroke="#000" stroke-width="1.3"/>
<line x1="396.70" y1="568.30" x2="411.30" y2="568.30" stroke="#000" stroke-width="1.0"/>
<line x1="411.30" y1="566.20" x2="411.30" y2="570.40" stroke="#000" stroke-width="1.0"/>
<rect x="355.20" y="564.60" width="41.50" height="7.40" fill="url(#hf)" stroke="#000" stroke-width="1.3"/>
<line x1="462.50" y1="579.55" x2="480.80" y2="579.55" stroke="#000" stroke-width="1.0"/>
<line x1="480.80" y1="577.45" x2="480.80" y2="581.65" stroke="#000" stroke-width="1.0"/>
<rect x="355.20" y="575.40" width="107.30" height="8.30" fill="#767676" stroke="#000" stroke-width="1.3"/>
<line x1="388.10" y1="599.60" x2="400.20" y2="599.60" stroke="#000" stroke-width="1.0"/>
<line x1="400.20" y1="597.50" x2="400.20" y2="601.70" stroke="#000" stroke-width="1.0"/>
<rect x="355.20" y="595.80" width="32.90" height="7.60" fill="url(#hf)" stroke="#000" stroke-width="1.3"/>
<line x1="458.20" y1="610.30" x2="465.40" y2="610.30" stroke="#000" stroke-width="1.0"/>
<line x1="465.40" y1="608.20" x2="465.40" y2="612.40" stroke="#000" stroke-width="1.0"/>
<rect x="355.20" y="606.20" width="103.00" height="8.20" fill="#767676" stroke="#000" stroke-width="1.3"/>
<text x="491.30" y="542.60" font-size="10.0">N.S.</text>
<text x="440.80" y="572.00" font-size="10.0">N.S.</text>
<text x="422.10" y="603.20" font-size="10.0">*P&lt;0.05</text>
</svg></body></html>
